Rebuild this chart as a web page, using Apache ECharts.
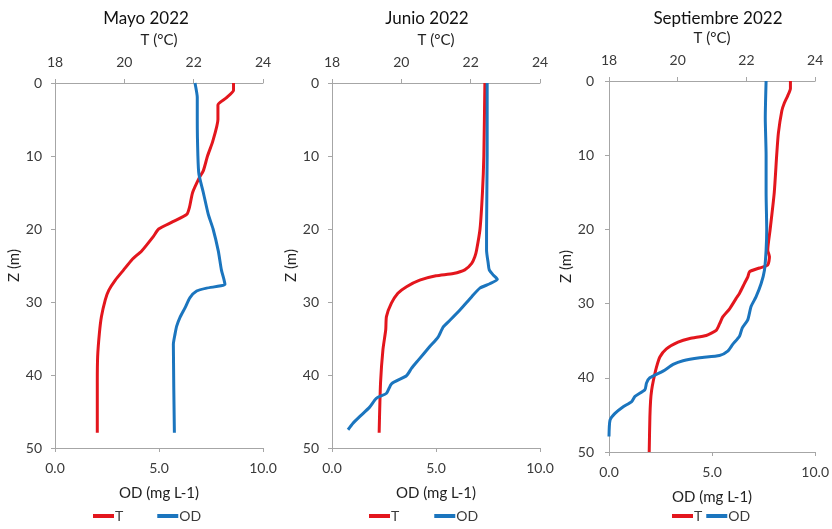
<!DOCTYPE html>
<html><head><meta charset="utf-8">
<script src="https://cdn.jsdelivr.net/npm/echarts@6/dist/echarts.min.js"></script>
<style>html,body{margin:0;padding:0;background:#fff}#c{width:832px;height:529px}</style>
</head><body><div id="c"></div>
<script>
// ---- data ----
const panelTitles = ['Mayo 2022', 'Junio 2022', 'Septiembre 2022'];
const tTicks = [18, 20, 22, 24];
const odTicks = [0, 5, 10];
const zTicks = [0, 10, 20, 30, 40, 50];

const mayoTDepth = [0, 1, 2, 3, 5, 8, 10, 12, 13, 15, 17, 18, 19, 20, 21, 23, 24.2, 25.6, 27, 28.4, 29.7, 32, 34.3, 37.5, 41, 47.9];
const mayoT = [23.15, 23.15, 22.95, 22.7, 22.7, 22.55, 22.4, 22.28, 22.16, 21.97, 21.88, 21.8, 21.4, 20.99, 20.84, 20.5, 20.22, 19.98, 19.74, 19.55, 19.45, 19.34, 19.28, 19.23, 19.22, 19.22];
const mayoODDepth = [0, 2, 5, 10, 12.5, 15, 18, 20, 23, 25.6, 27, 27.6, 28.1, 28.5, 29.4, 30.8, 32.1, 33.3, 34.4, 35.8, 47.9];
const mayoOD = [6.73, 6.84, 6.84, 6.87, 6.92, 7.13, 7.37, 7.6, 7.85, 8.0, 8.13, 8.17, 7.29, 6.81, 6.49, 6.25, 6.01, 5.85, 5.77, 5.69, 5.74];

const junioTDepth = [0, 10, 15, 20, 22.9, 23.8, 24.7, 25.6, 26.1, 26.4, 27, 27.9, 28.8, 30.2, 32, 33.8, 36.5, 41.1, 47.9];
const junioT = [22.41, 22.38, 22.34, 22.27, 22.17, 22.12, 22.03, 21.83, 21.5, 21.0, 20.53, 20.15, 19.9, 19.71, 19.57, 19.55, 19.47, 19.4, 19.36];
const junioODDepth = [0, 10, 20, 22.9, 24.7, 25.6, 26.3, 26.9, 27.5, 28.1, 29.3, 31.1, 32.5, 33.4, 34.8, 36.1, 38, 39.1, 40.1, 41.2, 42.5, 43.2, 44.4, 45.7, 46.6, 47.5];
const junioOD = [7.46, 7.46, 7.43, 7.43, 7.51, 7.56, 7.75, 7.95, 7.59, 7.11, 6.71, 6.15, 5.67, 5.35, 5.1, 4.7, 4.14, 3.82, 3.58, 2.86, 2.62, 2.13, 1.81, 1.33, 1.01, 0.77];

const septTDepth = [0, 1, 2, 3, 4, 7, 10, 15, 20, 22.8, 23.7, 24.8, 25.2, 25.7, 26.4, 27.3, 28.6, 29.3, 30.7, 31.8, 32.7, 33.6, 34.3, 34.7, 35.2, 36.1, 37.2, 38.6, 40.4, 41.7, 43.1, 45.3, 50];
const septT = [23.28, 23.28, 23.2, 23.1, 23.03, 22.93, 22.88, 22.81, 22.69, 22.62, 22.67, 22.62, 22.38, 22.09, 22.04, 21.94, 21.8, 21.7, 21.51, 21.31, 21.22, 21.12, 20.83, 20.35, 20.01, 19.67, 19.48, 19.38, 19.29, 19.24, 19.21, 19.19, 19.17];
const septODDepth = [0, 5, 10, 15, 20, 22.8, 25.5, 27.3, 29.1, 30.4, 32.2, 33.3, 34.4, 35.5, 36.4, 37, 37.3, 37.7, 38.2, 39.1, 40, 40.7, 41.6, 42.5, 43.2, 43.9, 44.8, 45.7, 47.9];
const septOD = [7.62, 7.58, 7.62, 7.62, 7.65, 7.62, 7.54, 7.38, 7.13, 6.89, 6.73, 6.46, 6.33, 6.0, 5.76, 5.36, 4.4, 3.59, 3.11, 2.62, 1.98, 1.82, 1.74, 1.26, 1.1, 0.69, 0.29, 0.05, 0.0];

// ---- layout / style ----
const FONT = 'Lato';
const RED = '#E3161D', BLUE = '#1B75BE', AX = '#a6a6a6', TXT = '#3a3a3a';
const layout = [
  {left: 55, top: 83, width: 208, height: 365, titleX: 146, yMargin: 13, legendLeft: 93, legendGap: 34},
  {left: 332, top: 83, width: 208, height: 365, titleX: 427, yMargin: 13, legendLeft: 369, legendGap: 35},
  {left: 609, top: 81, width: 207, height: 371, titleX: 718, yMargin: 15, legendLeft: 672, legendGap: 4}
];
const seriesData = [
  [mayoTDepth, mayoT, mayoODDepth, mayoOD],
  [junioTDepth, junioT, junioODDepth, junioOD],
  [septTDepth, septT, septODDepth, septOD]
];
const zip = (v, d) => v.map((x, i) => [x, d[i]]);

const option = {
  animation: false,
  backgroundColor: '#fff',
  textStyle: {fontFamily: FONT},
  title: [], grid: [], xAxis: [], yAxis: [], legend: [], series: []
};

layout.forEach((L, i) => {
  option.title.push({
    text: panelTitles[i], left: L.titleX, top: 10, textAlign: 'center', padding: 0,
    textStyle: {fontFamily: FONT, fontSize: 17, fontWeight: 'normal', color: '#111'}
  });
  option.grid.push({left: L.left, top: L.top, width: L.width, height: L.height});
  const axisCommon = {
    type: 'value', gridIndex: i, nameLocation: 'middle',
    nameTextStyle: {fontFamily: FONT, fontSize: 15, color: '#222'},
    axisLine: {show: true, lineStyle: {color: AX, width: 1}},
    axisTick: {show: true, length: 4, lineStyle: {color: AX}},
    splitLine: {show: false},
    axisLabel: {fontFamily: FONT, fontSize: 14, color: TXT}
  };
  option.xAxis.push(Object.assign({}, axisCommon, {
    position: 'top', min: tTicks[0], max: tTicks[tTicks.length - 1], interval: tTicks[1] - tTicks[0],
    name: 'T (°C)', nameGap: 35,
    axisLabel: Object.assign({}, axisCommon.axisLabel, {margin: 14})
  }));
  option.xAxis.push(Object.assign({}, axisCommon, {
    position: 'bottom', min: odTicks[0], max: odTicks[odTicks.length - 1], interval: odTicks[1] - odTicks[0],
    name: 'OD (mg L-1)', nameGap: 38,
    axisLabel: Object.assign({}, axisCommon.axisLabel, {margin: 13, formatter: v => v.toFixed(1)})
  }));
  option.yAxis.push(Object.assign({}, axisCommon, {
    inverse: true, min: zTicks[0], max: zTicks[zTicks.length - 1], interval: zTicks[1] - zTicks[0],
    name: 'Z (m)', nameGap: 33 + (i === 2 ? 2 : 0), nameRotate: 90,
    axisLabel: Object.assign({}, axisCommon.axisLabel, {margin: L.yMargin})
  }));
  option.legend.push({
    data: ['T', 'OD'], left: L.legendLeft, top: 509, itemGap: L.legendGap, padding: 0,
    icon: 'rect', itemWidth: 21, itemHeight: 4,
    textStyle: {fontFamily: FONT, fontSize: 14, color: TXT, padding: [0, 0, 0, -4]}
  });
  const [tD, tV, oD, oV] = seriesData[i];
  option.series.push({
    name: 'T', type: 'line', xAxisIndex: 2 * i, yAxisIndex: i, data: zip(tV, tD),
    showSymbol: false, symbol: 'none', smooth: 0.2,
    lineStyle: {color: RED, width: 3}, itemStyle: {color: RED}
  });
  option.series.push({
    name: 'OD', type: 'line', xAxisIndex: 2 * i + 1, yAxisIndex: i, data: zip(oV, oD),
    showSymbol: false, symbol: 'none', smooth: 0.2,
    lineStyle: {color: BLUE, width: 3}, itemStyle: {color: BLUE}
  });
});

const chart = echarts.init(document.getElementById('c'), null, {renderer: 'canvas'});
chart.setOption(option);
</script></body></html>
